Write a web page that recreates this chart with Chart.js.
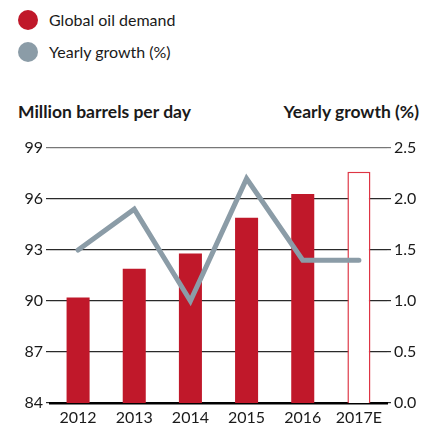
<!DOCTYPE html>
<html>
<head>
<meta charset="utf-8">
<script src="https://cdn.jsdelivr.net/npm/chart.js@4"></script>
<style>
  html, body { margin: 0; padding: 0; background: #fff; }
  body { width: 423px; height: 427px; position: relative; overflow: hidden; font-family: Lato, sans-serif; color: #1a1a1a; }
  #wrap { position: absolute; left: 0; top: 0; width: 423px; height: 427px; }
  .legend-item { position: absolute; left: 18px; font-size: 16px; line-height: 20px; }
  .legend-item .dot { position: absolute; left: 0; top: 0; width: 20px; height: 20px; border-radius: 50%; }
  .legend-item span { position: absolute; left: 31px; top: 0; white-space: nowrap; }
  .axis-title { position: absolute; top: 101px; font-size: 17.5px; font-weight: bold; white-space: nowrap; }
</style>
</head>
<body>
<div class="legend-item" style="top:10px"><div class="dot" style="background:#c0182a"></div><span>Global oil demand</span></div>
<div class="legend-item" style="top:42px"><div class="dot" style="background:#8b9ca7"></div><span>Yearly growth (%)</span></div>
<div class="axis-title" style="left:18px">Million barrels per day</div>
<div class="axis-title" style="right:4px">Yearly growth (%)</div>
<div id="wrap"><canvas id="oilChart"></canvas></div>
<script>
// Data
const years = ['2012', '2013', '2014', '2015', '2016', '2017E'];
const demand = [90.2, 91.9, 92.8, 94.9, 96.3, 97.6];     // million barrels per day
const growth = [1.5, 1.9, 1.0, 2.2, 1.4, 1.4];            // yearly growth, %

const colors = {
    red: '#c0182a',
    redLine: '#de3544',
    gray: '#8b9ca7',
    grid: '#2a2a2a',
    text: '#1a1a1a'
};

const lastIdx = years.length - 1;
const tickFont = { family: 'Lato', size: 16 };

const ctx = document.getElementById('oilChart').getContext('2d');
new Chart(ctx, {
    data: {
        labels: years,
        datasets: [
            {
                type: 'line',
                label: 'Yearly growth (%)',
                data: growth,
                yAxisID: 'y1',
                borderColor: colors.gray,
                borderWidth: 5,
                pointRadius: 0,
                tension: 0,
                borderJoinStyle: 'miter',
                borderCapStyle: 'round',
                order: 0
            },
            {
                type: 'bar',
                label: 'Global oil demand',
                data: demand,
                yAxisID: 'y',
                backgroundColor: years.map((_, i) => i === lastIdx ? '#ffffff' : colors.red),
                borderColor: years.map((_, i) => i === lastIdx ? colors.redLine : colors.red),
                borderWidth: years.map((_, i) => i === lastIdx ? 1.5 : 0),
                barPercentage: 0.41,
                categoryPercentage: 1,
                order: 1
            }
        ]
    },
    options: {
        responsive: true,
        maintainAspectRatio: false,
        animation: false,
        layout: { padding: { top: 148, left: 0, right: 0, bottom: 0 } },
        plugins: { legend: { display: false }, tooltip: { enabled: false } },
        scales: {
            x: {
                grid: { display: false, drawTicks: false },
                border: { display: true, color: '#000', width: 2.5 },
                ticks: { font: tickFont, color: colors.text, padding: 5 },
                afterFit: s => { s.height = 24; }
            },
            y: {
                position: 'left',
                min: 84,
                max: 99,
                ticks: { stepSize: 3, font: tickFont, color: colors.text, padding: 3 },
                grid: {
                    color: c => c.tick && c.tick.value === 99 ? '#777' : colors.grid,
                    lineWidth: 1.2,
                    tickLength: 4
                },
                border: { display: false },
                afterFit: s => { s.width = 50; }
            },
            y1: {
                position: 'right',
                min: 0,
                max: 2.5,
                ticks: {
                    stepSize: 0.5,
                    font: tickFont,
                    color: colors.text,
                    padding: 3,
                    callback: v => v.toFixed(1)
                },
                grid: {
                    drawOnChartArea: false,
                    color: c => c.tick && c.tick.value === 2.5 ? '#777' : colors.grid,
                    lineWidth: 1.2,
                    tickLength: 4
                },
                border: { display: false },
                afterFit: s => { s.width = 36; }
            }
        }
    }
});
</script>
</body>
</html>
